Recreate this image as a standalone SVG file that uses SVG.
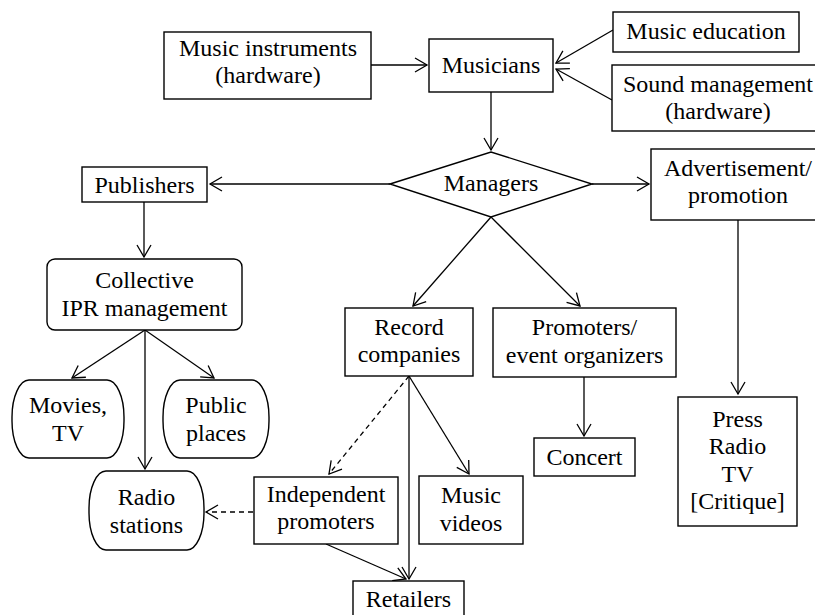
<svg xmlns="http://www.w3.org/2000/svg" width="815" height="615" viewBox="0 0 815 615">
<defs>
<marker id="arr" markerUnits="userSpaceOnUse" markerWidth="16" markerHeight="16" refX="12" refY="7" orient="auto" overflow="visible">
<path d="M0,0 L12,7 L0,14" fill="none" stroke="#000" stroke-width="1.3"/>
</marker>
<style>
.b{fill:#fff;stroke:#000;stroke-width:1.4}
.t{font-size:24px;fill:#000;text-anchor:middle}
.c line{stroke:#000;stroke-width:1.3;fill:none;marker-end:url(#arr)}
.c .d{stroke-dasharray:5,4}
</style>
</defs>
<rect width="815" height="615" fill="#fff"/>
<g class="c" id="connectors">
<line x1="371" y1="65" x2="427" y2="65"/>
<line x1="613" y1="30" x2="556" y2="63"/>
<line x1="612" y1="100" x2="556" y2="69"/>
<line x1="491" y1="92" x2="491" y2="150"/>
<line x1="390" y1="184" x2="210" y2="184"/>
<line x1="592" y1="184" x2="649" y2="184"/>
<line x1="144" y1="202" x2="144" y2="257"/>
<line x1="491" y1="217" x2="413" y2="306"/>
<line x1="491" y1="217" x2="580" y2="306"/>
<line x1="738" y1="220" x2="738" y2="394"/>
<line x1="145" y1="330" x2="72" y2="378"/>
<line x1="145" y1="330" x2="214" y2="378"/>
<line x1="145" y1="330" x2="145" y2="469"/>
<line x1="584" y1="377" x2="584" y2="436"/>
<line class="d" x1="409" y1="376" x2="329" y2="474"/>
<line x1="409" y1="376" x2="469" y2="474"/>
<line x1="409" y1="376" x2="409" y2="579"/>
<line class="d" x1="253" y1="512" x2="206" y2="512"/>
<line x1="326" y1="544" x2="406" y2="579"/>
</g>
<g id="nodes" font-family="Liberation Serif, Times New Roman, serif" style="font-family:'Liberation Serif','Times New Roman',serif">
<g id="music-instruments"><rect class="b" x="164" y="32" width="207" height="67"/><text class="t" x="268" y="56">Music instruments</text><text class="t" x="268" y="83">(hardware)</text></g>
<g id="musicians"><rect class="b" x="429" y="39" width="124" height="53"/><text class="t" x="491" y="73">Musicians</text></g>
<g id="music-education"><rect class="b" x="613" y="12" width="186" height="40"/><text class="t" x="706" y="39">Music education</text></g>
<g id="sound-management"><rect class="b" x="612" y="65" width="212" height="66"/><text class="t" x="718" y="92">Sound management</text><text class="t" x="718" y="119">(hardware)</text></g>
<g id="managers"><polygon class="b" points="390,184 491,152 592,184 491,217"/><text class="t" x="491" y="191">Managers</text></g>
<g id="publishers"><rect class="b" x="82" y="167" width="125" height="35"/><text class="t" x="144.5" y="193">Publishers</text></g>
<g id="advertisement"><rect class="b" x="651" y="149" width="175" height="71"/><text class="t" x="738" y="176">Advertisement/</text><text class="t" x="738" y="203">promotion</text></g>
<g id="collective"><rect class="b" x="47" y="259" width="195" height="71" rx="8" ry="8"/><text class="t" x="144.5" y="288">Collective</text><text class="t" x="144.5" y="316">IPR management</text></g>
<g id="record-companies"><rect class="b" x="345" y="308" width="128" height="68"/><text class="t" x="409" y="335">Record</text><text class="t" x="409" y="362">companies</text></g>
<g id="promoters"><rect class="b" x="493" y="308" width="183" height="69"/><text class="t" x="584.5" y="335">Promoters/</text><text class="t" x="584.5" y="363">event organizers</text></g>
<g id="movies-tv"><rect class="b" x="12" y="380" width="112" height="78" rx="17" ry="37"/><text class="t" x="68" y="413">Movies,</text><text class="t" x="68" y="441">TV</text></g>
<g id="public-places"><rect class="b" x="163" y="380" width="106" height="78" rx="17" ry="37"/><text class="t" x="216" y="413">Public</text><text class="t" x="216" y="441">places</text></g>
<g id="radio-stations"><rect class="b" x="89" y="471" width="115" height="79" rx="17" ry="37"/><text class="t" x="146.5" y="505">Radio</text><text class="t" x="146.5" y="533">stations</text></g>
<g id="concert"><rect class="b" x="534" y="438" width="101" height="38"/><text class="t" x="584.5" y="465">Concert</text></g>
<g id="press"><rect class="b" x="678" y="397" width="119" height="129"/><text class="t" x="737.5" y="427">Press</text><text class="t" x="737.5" y="454">Radio</text><text class="t" x="737.5" y="482">TV</text><text class="t" x="737.5" y="509">[Critique]</text></g>
<g id="independent-promoters"><rect class="b" x="254" y="477" width="144" height="67"/><text class="t" x="326" y="502">Independent</text><text class="t" x="326" y="529">promoters</text></g>
<g id="music-videos"><rect class="b" x="419" y="476" width="104" height="68"/><text class="t" x="471" y="503">Music</text><text class="t" x="471" y="531">videos</text></g>
<g id="retailers"><rect class="b" x="353" y="581" width="111" height="45"/><text class="t" x="408.5" y="607">Retailers</text></g>
</g>
</svg>
